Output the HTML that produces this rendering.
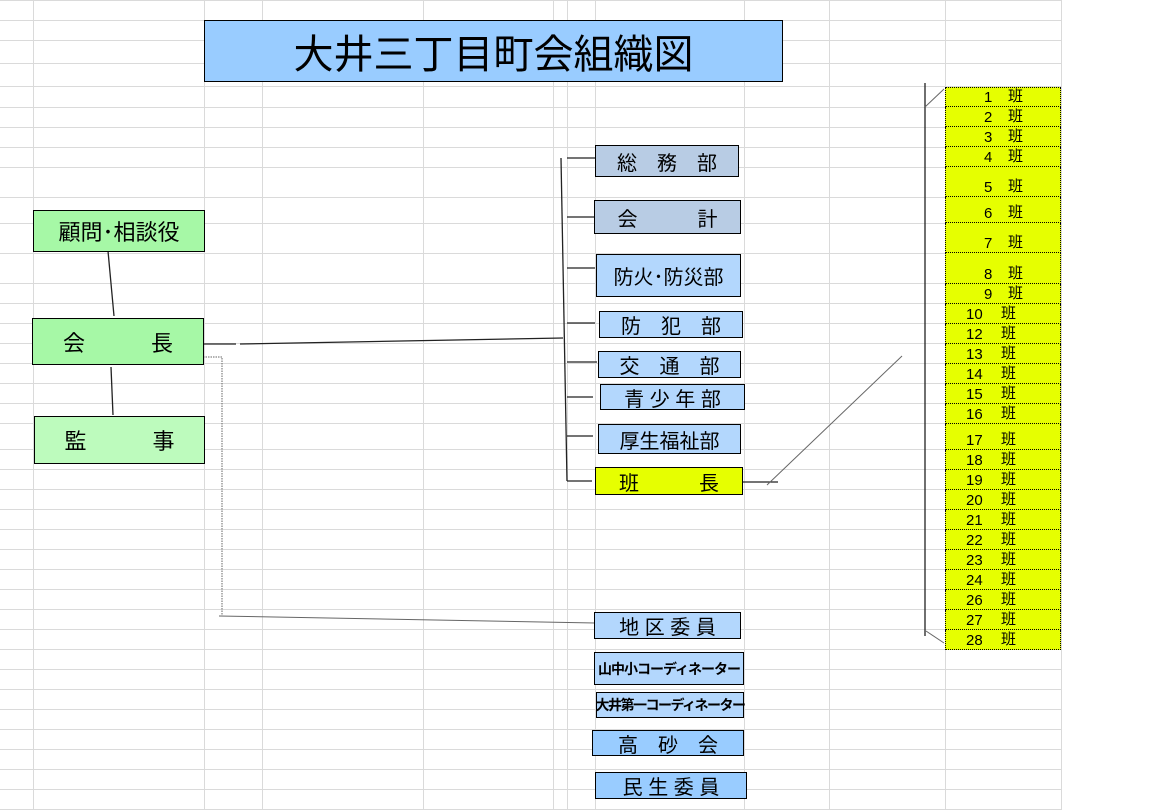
<!DOCTYPE html>
<html><head><meta charset="utf-8"><style>
body{margin:0;width:1152px;height:810px;position:relative;background:#fff;overflow:hidden;font-family:"Liberation Sans","Noto Sans CJK JP",sans-serif;}
.b{position:absolute;box-sizing:border-box;border:1.5px solid #000;display:flex;align-items:center;justify-content:center;font-size:20px;color:#000;white-space:pre;}
.r{position:absolute;left:945px;width:116px;box-sizing:border-box;background:#e6ff00;border-left:1px dotted #000;border-right:1px dotted #000;border-bottom:1px dotted #000;font-size:15px;}
.r span{position:absolute;bottom:0px;}
svg{position:absolute;left:0;top:0;}
</style></head><body>
<svg width="1152" height="810">
<g stroke="#dadada" stroke-width="1">
<line x1="33.5" y1="0" x2="33.5" y2="810"/><line x1="204.5" y1="0" x2="204.5" y2="810"/><line x1="262.5" y1="0" x2="262.5" y2="810"/><line x1="423.5" y1="0" x2="423.5" y2="810"/><line x1="553.5" y1="0" x2="553.5" y2="810"/><line x1="567.5" y1="0" x2="567.5" y2="810"/><line x1="595.5" y1="0" x2="595.5" y2="810"/><line x1="744.5" y1="0" x2="744.5" y2="810"/><line x1="829.5" y1="0" x2="829.5" y2="810"/><line x1="945.5" y1="0" x2="945.5" y2="810"/><line x1="1061.5" y1="0" x2="1061.5" y2="810"/>
<g id="h">
<line x1="0" y1="0.5" x2="1062" y2="0.5"/><line x1="0" y1="20.5" x2="1062" y2="20.5"/><line x1="0" y1="40.5" x2="1062" y2="40.5"/><line x1="0" y1="63.5" x2="1062" y2="63.5"/><line x1="0" y1="86.5" x2="1062" y2="86.5"/><line x1="0" y1="107.5" x2="1062" y2="107.5"/><line x1="0" y1="127.5" x2="1062" y2="127.5"/><line x1="0" y1="147.5" x2="1062" y2="147.5"/><line x1="0" y1="167.5" x2="1062" y2="167.5"/><line x1="0" y1="197.5" x2="1062" y2="197.5"/><line x1="0" y1="223.5" x2="1062" y2="223.5"/><line x1="0" y1="253.5" x2="1062" y2="253.5"/><line x1="0" y1="283.5" x2="1062" y2="283.5"/><line x1="0" y1="303.5" x2="1062" y2="303.5"/><line x1="0" y1="323.5" x2="1062" y2="323.5"/><line x1="0" y1="343.5" x2="1062" y2="343.5"/><line x1="0" y1="363.5" x2="1062" y2="363.5"/><line x1="0" y1="383.5" x2="1062" y2="383.5"/><line x1="0" y1="403.5" x2="1062" y2="403.5"/><line x1="0" y1="423.5" x2="1062" y2="423.5"/><line x1="0" y1="449.5" x2="1062" y2="449.5"/><line x1="0" y1="469.5" x2="1062" y2="469.5"/><line x1="0" y1="489.5" x2="1062" y2="489.5"/><line x1="0" y1="509.5" x2="1062" y2="509.5"/><line x1="0" y1="529.5" x2="1062" y2="529.5"/><line x1="0" y1="549.5" x2="1062" y2="549.5"/><line x1="0" y1="569.5" x2="1062" y2="569.5"/><line x1="0" y1="589.5" x2="1062" y2="589.5"/><line x1="0" y1="609.5" x2="1062" y2="609.5"/><line x1="0" y1="629.5" x2="1062" y2="629.5"/><line x1="0" y1="649.5" x2="1062" y2="649.5"/><line x1="0" y1="669.5" x2="1062" y2="669.5"/><line x1="0" y1="689.5" x2="1062" y2="689.5"/><line x1="0" y1="709.5" x2="1062" y2="709.5"/><line x1="0" y1="729.5" x2="1062" y2="729.5"/><line x1="0" y1="749.5" x2="1062" y2="749.5"/><line x1="0" y1="769.5" x2="1062" y2="769.5"/><line x1="0" y1="789.5" x2="1062" y2="789.5"/><line x1="0" y1="809.5" x2="1062" y2="809.5"/>
</g></g>
<g stroke="#222" stroke-width="1.3" fill="none">
<line x1="108" y1="251" x2="114" y2="316"/>
<line x1="111" y1="367" x2="113" y2="415"/>
<line x1="203" y1="344" x2="236" y2="344"/>
<line x1="240" y1="344" x2="563" y2="338"/>
<line x1="561" y1="158" x2="567" y2="481"/>
<line x1="567" y1="158" x2="595" y2="158"/>
<line x1="567" y1="217" x2="595" y2="217"/>
<line x1="567" y1="268" x2="595" y2="268"/>
<line x1="567" y1="323" x2="595" y2="323"/>
<line x1="567" y1="362" x2="597" y2="362"/>
<line x1="567" y1="397" x2="593" y2="397"/>
<line x1="567" y1="436" x2="593" y2="436"/>
<line x1="567" y1="481" x2="592" y2="481"/>
<line x1="743" y1="482" x2="778" y2="482"/>
<line x1="925" y1="83" x2="925" y2="636"/>
</g>
<g stroke="#666" stroke-width="1" fill="none">
<line x1="767" y1="485" x2="902" y2="356"/>
<line x1="925" y1="107" x2="944" y2="89"/>
<line x1="926" y1="631" x2="944" y2="643"/>
<path d="M203 357 H222 V616" stroke-dasharray="1.5 1"/>
<line x1="219" y1="616" x2="595" y2="623"/>
</g>
</svg>

<div class="b" style="left:204px;top:20px;width:579px;height:62px;background:#99ccff;font-size:40px;">大井三丁目町会組織図</div>

<div class="b" style="left:33px;top:210px;width:172px;height:42px;background:#a6f8a6;font-size:22px;">顧問･相談役</div>
<div class="b" style="left:32px;top:318px;width:172px;height:47px;background:#a6f8a6;font-size:22px;">会　　　長</div>
<div class="b" style="left:34px;top:416px;width:171px;height:48px;background:#bdfbbd;font-size:22px;">監　　　事</div>

<div class="b" style="left:595px;top:145px;width:144px;height:32px;background:#b8cce4;">総　務　部</div>
<div class="b" style="left:594px;top:200px;width:147px;height:34px;background:#b8cce4;">会　　　計</div>
<div class="b" style="left:596px;top:254px;width:145px;height:43px;background:#b3d7fd;">防火･防災部</div>
<div class="b" style="left:599px;top:311px;width:144px;height:27px;background:#b3d7fd;">防　犯　部</div>
<div class="b" style="left:598px;top:351px;width:143px;height:27px;background:#b3d7fd;">交　通　部</div>
<div class="b" style="left:600px;top:384px;width:145px;height:26px;background:#b3d7fd;">青 少 年 部</div>
<div class="b" style="left:598px;top:424px;width:143px;height:30px;background:#b3d7fd;">厚生福祉部</div>
<div class="b" style="left:595px;top:467px;width:148px;height:28px;background:#e6ff00;">班　　　長</div>

<div class="b" style="left:594px;top:612px;width:147px;height:27px;background:#b3d7fd;">地 区 委 員</div>
<div class="b" style="left:594px;top:652px;width:150px;height:33px;background:#b3d7fd;font-size:14px;font-weight:bold;letter-spacing:-1px;">山中小コーディネーター</div>
<div class="b" style="left:596px;top:692px;width:148px;height:26px;background:#b3d7fd;font-size:14px;font-weight:bold;letter-spacing:-1.5px;">大井第一コーディネーター</div>
<div class="b" style="left:592px;top:730px;width:152px;height:26px;background:#99ccff;">高　砂　会</div>
<div class="b" style="left:595px;top:772px;width:152px;height:27px;background:#99ccff;">民 生 委 員</div>

<div class="r" style="top:87px;height:20px;border-top:1px dotted #000;"><span style="left:38px">1</span><span style="left:62px">班</span></div>
<div class="r" style="top:107px;height:20px;"><span style="left:38px">2</span><span style="left:62px">班</span></div>
<div class="r" style="top:127px;height:20px;"><span style="left:38px">3</span><span style="left:62px">班</span></div>
<div class="r" style="top:147px;height:20px;"><span style="left:38px">4</span><span style="left:62px">班</span></div>
<div class="r" style="top:167px;height:30px;"><span style="left:38px">5</span><span style="left:62px">班</span></div>
<div class="r" style="top:197px;height:26px;"><span style="left:38px">6</span><span style="left:62px">班</span></div>
<div class="r" style="top:223px;height:30px;"><span style="left:38px">7</span><span style="left:62px">班</span></div>
<div class="r" style="top:253px;height:31px;"><span style="left:38px">8</span><span style="left:62px">班</span></div>
<div class="r" style="top:284px;height:20px;"><span style="left:38px">9</span><span style="left:62px">班</span></div>
<div class="r" style="top:304px;height:20px;"><span style="left:20px">10</span><span style="left:55px">班</span></div>
<div class="r" style="top:324px;height:20px;"><span style="left:20px">12</span><span style="left:55px">班</span></div>
<div class="r" style="top:344px;height:20px;"><span style="left:20px">13</span><span style="left:55px">班</span></div>
<div class="r" style="top:364px;height:20px;"><span style="left:20px">14</span><span style="left:55px">班</span></div>
<div class="r" style="top:384px;height:20px;"><span style="left:20px">15</span><span style="left:55px">班</span></div>
<div class="r" style="top:404px;height:20px;"><span style="left:20px">16</span><span style="left:55px">班</span></div>
<div class="r" style="top:424px;height:26px;"><span style="left:20px">17</span><span style="left:55px">班</span></div>
<div class="r" style="top:450px;height:20px;"><span style="left:20px">18</span><span style="left:55px">班</span></div>
<div class="r" style="top:470px;height:20px;"><span style="left:20px">19</span><span style="left:55px">班</span></div>
<div class="r" style="top:490px;height:20px;"><span style="left:20px">20</span><span style="left:55px">班</span></div>
<div class="r" style="top:510px;height:20px;"><span style="left:20px">21</span><span style="left:55px">班</span></div>
<div class="r" style="top:530px;height:20px;"><span style="left:20px">22</span><span style="left:55px">班</span></div>
<div class="r" style="top:550px;height:20px;"><span style="left:20px">23</span><span style="left:55px">班</span></div>
<div class="r" style="top:570px;height:20px;"><span style="left:20px">24</span><span style="left:55px">班</span></div>
<div class="r" style="top:590px;height:20px;"><span style="left:20px">26</span><span style="left:55px">班</span></div>
<div class="r" style="top:610px;height:20px;"><span style="left:20px">27</span><span style="left:55px">班</span></div>
<div class="r" style="top:630px;height:20px;"><span style="left:20px">28</span><span style="left:55px">班</span></div>
</body></html>
